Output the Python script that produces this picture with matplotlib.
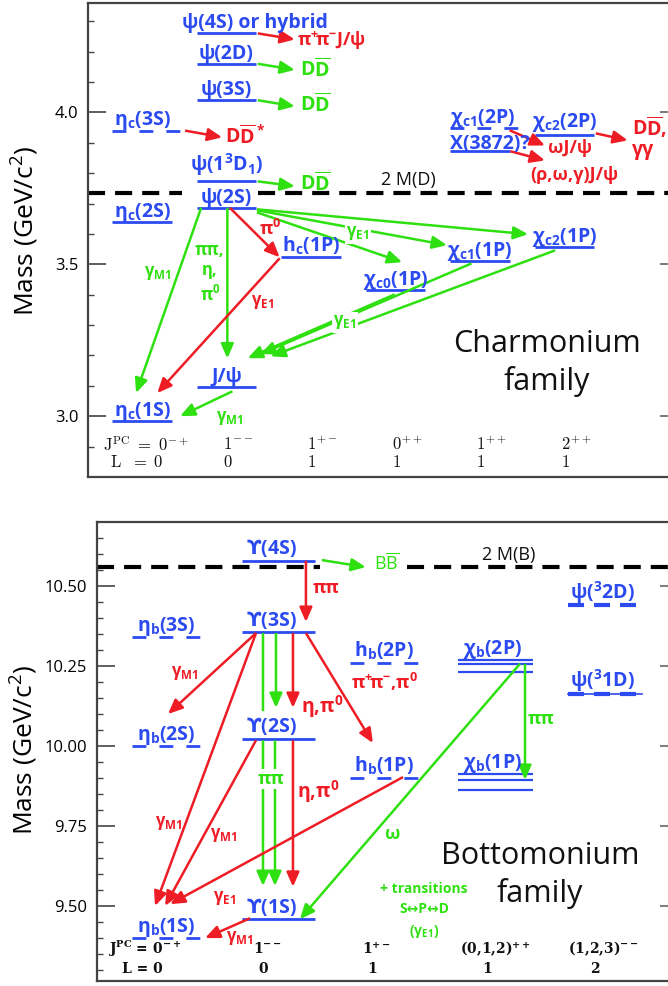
import matplotlib
matplotlib.use('Agg')
import matplotlib.pyplot as plt

BLUE, GREEN, RED, INK = '#2b4af0', '#2ee010', '#ee1c24', '#111111'
KIND = {'g': GREEN, 'r': RED}

plt.rcParams['font.family'] = ['Open Sans', 'DejaVu Sans']
plt.rcParams['mathtext.fontset'] = 'custom'
plt.rcParams['mathtext.rm'] = 'Open Sans'
plt.rcParams['mathtext.bf'] = 'Open Sans:bold'
plt.rcParams['mathtext.sf'] = 'DejaVu Sans:bold'
plt.rcParams['mathtext.default'] = 'regular'

# ---------------- charmonium data ----------------
cc_keys = ['etac1S', 'etac2S', 'etac3S', 'jpsi', 'psi2S', 'psi3770', 'psi3S', 'psi2D', 'psi4S',
           'hc1P', 'chic0', 'chic1', 'chic2', 'chic1_2P', 'x3872', 'chic2_2P']
cc_names = ['$η_c(1S)$', '$η_c(2S)$', '$η_c(3S)$', 'J/ψ', 'ψ(2S)', '$ψ(1^3D_1)$', 'ψ(3S)', 'ψ(2D)',
            'ψ(4S) or hybrid', '$h_c(1P)$', '$χ_{c0}(1P)$', '$χ_{c1}(1P)$', '$χ_{c2}(1P)$',
            '$χ_{c1}(2P)$', 'X(3872)?', '$χ_{c2}(2P)$']
cc_col = [0, 0, 0, 1, 1, 1, 1, 1, 1, 2, 3, 4, 5, 4, 4, 5]
cc_mass = [2.984, 3.639, 3.940, 3.097, 3.686, 3.773, 4.040, 4.160, 4.260,
           3.525, 3.415, 3.511, 3.556, 3.947, 3.872, 3.927]
cc_kind = ['seen', 'seen', 'pred', 'seen', 'seen', 'seen', 'seen', 'seen', 'seen',
           'seen', 'seen', 'seen', 'seen', 'pred', 'seen', 'seen']
cc_jpc = ['0^{-+}', '1^{--}', '1^{+-}', '0^{++}', '1^{++}', '2^{++}']
cc_L = ['0', '0', '1', '1', '1', '1']
cc_threshold = 3.734   # 2 M(D)
cc_ticks = [3.0, 3.5, 4.0]
cc_ticklabels = ['3.0', '3.5', '4.0']

# transitions (from, to, colour); from == to means decay to open final state
cc_trans = [('psi4S', 'psi4S', 'r'), ('psi2D', 'psi2D', 'g'), ('psi3S', 'psi3S', 'g'),
            ('etac3S', 'etac3S', 'r'), ('psi3770', 'psi3770', 'g'),
            ('psi2S', 'etac1S', 'g'), ('psi2S', 'jpsi', 'g'), ('psi2S', 'hc1P', 'r'),
            ('psi2S', 'chic2', 'g'), ('psi2S', 'chic1', 'g'), ('psi2S', 'chic0', 'g'),
            ('hc1P', 'etac1S', 'r'), ('jpsi', 'etac1S', 'g'),
            ('chic0', 'jpsi', 'g'), ('chic1', 'jpsi', 'g'), ('chic2', 'jpsi', 'g'),
            ('chic1_2P', 'chic1_2P', 'r'), ('x3872', 'x3872', 'r'), ('chic2_2P', 'chic2_2P', 'r')]

# ---------------- bottomonium data ----------------
bb_keys = ['etab1S', 'etab2S', 'etab3S', 'ups1S', 'ups2S', 'ups3S', 'ups4S',
           'hb1P', 'hb2P', 'chib1P', 'chib2P', 'ups1D', 'ups2D']
bb_names = ['$η_b(1S)$', '$η_b(2S)$', '$η_b(3S)$', r'$\mathsf{ϒ}(1S)$', r'$\mathsf{ϒ}(2S)$',
            r'$\mathsf{ϒ}(3S)$', r'$\mathsf{ϒ}(4S)$',
            '$h_b(1P)$', '$h_b(2P)$', '$χ_b(1P)$', '$χ_b(2P)$', '$ψ(^31D)$', '$ψ(^32D)$']
bb_col = [0, 0, 0, 1, 1, 1, 1, 2, 2, 3, 3, 4, 4]
bb_mass = [9.399, 9.999, 10.340, 9.460, 10.023, 10.355, 10.579,
           9.899, 10.260, 9.893, 10.257, 10.164, 10.440]
bb_kind = ['pred', 'pred', 'pred', 'seen', 'seen', 'seen', 'seen',
           'pred', 'pred', 'triplet', 'triplet', 'dseen', 'dpred']
chib1P_J = [9.862, 9.893, 9.912]
chib2P_J = [10.232, 10.257, 10.269]
bb_jpc = ['0$^{-+}$', '1$^{--}$', '1$^{+-}$', '(0,1,2)$^{++}$', '(1,2,3)$^{--}$']
bb_L = ['0', '0', '1', '1', '2']
bb_threshold = 10.558  # 2 M(B)
bb_ticks = [9.50, 9.75, 10.00, 10.25, 10.50]
bb_ticklabels = ['9.50', '9.75', '10.00', '10.25', '10.50']

bb_trans = [('ups4S', 'ups4S', 'g'), ('ups4S', 'ups3S', 'r'), ('ups3S', 'etab2S', 'r'),
            ('ups3S', 'ups2S', 'g'), ('ups3S', 'ups2S', 'g'), ('ups3S', 'ups2S', 'r'),
            ('ups3S', 'hb1P', 'r'), ('ups3S', 'etab1S', 'r'), ('ups2S', 'etab1S', 'r'),
            ('ups2S', 'ups1S', 'g'), ('ups2S', 'ups1S', 'g'), ('ups2S', 'ups1S', 'r'),
            ('hb1P', 'etab1S', 'r'), ('ups1S', 'etab1S', 'r'),
            ('chib2P', 'ups1S', 'g'), ('chib2P', 'chib1P', 'g')]


def arrow(ax, p0, p1, color, head=True):
    style = '-|>,head_length=0.55,head_width=0.24' if head else '-'
    ax.annotate('', xy=p1, xytext=p0, zorder=3,
                arrowprops=dict(arrowstyle=style, color=color, lw=1.8, mutation_scale=16,
                                shrinkA=0, shrinkB=0, capstyle='butt'))


def note(ax, x, y, s, color, size=12, weight='bold', ha='center', va='center', bg=False):
    kw = {}
    if bg:
        kw['bbox'] = dict(fc='white', ec='none', pad=1.0)
    ax.text(x, y, s, color=color, fontsize=size, fontweight=weight, ha=ha, va=va, zorder=4, **kw)


def frame(ax, ticks, labels, minor, xlim, ylim):
    ax.set_xlim(*xlim)
    ax.set_ylim(*ylim)
    ax.set_xticks([])
    ax.set_yticks(ticks)
    ax.set_yticklabels(labels, fontsize=12)
    ax.set_yticks(minor, minor=True)
    ax.tick_params(axis='y', which='major', direction='in', length=13, width=1.2, pad=7, colors='#444444',
                   labelcolor='black')
    ax.tick_params(axis='y', which='minor', direction='in', length=4.5, width=1.0, colors='#444444')
    ax.spines['right'].set_visible(False)
    for s in ['left', 'top', 'bottom']:
        ax.spines[s].set_color('#444444')
        ax.spines[s].set_linewidth(1.6)
    axr = ax.twinx()
    axr.set_ylim(*ylim)
    axr.set_yticks(ticks)
    axr.set_yticklabels([])
    axr.tick_params(axis='y', direction='in', length=6, width=1.2, colors='#666666')
    axr.set_xticks([])
    for s in axr.spines.values():
        s.set_visible(False)


fig = plt.figure(figsize=(6.68, 9.86), dpi=100)
ax1 = fig.add_axes([88 / 668, 1 - 477 / 986, 580 / 668, 474 / 986])
ax2 = fig.add_axes([97 / 668, 1 - 981 / 986, 571 / 668, 459 / 986])

# ======================= charmonium =======================
frame(ax1, cc_ticks, cc_ticklabels, [2.9 + 0.1 * i for i in range(15)], (-0.639, 6.225), (2.80, 4.36))
cc = {k: (c, m) for k, c, m in zip(cc_keys, cc_col, cc_mass)}

dash = dict(color='black', lw=3.0, ls=(0, (4.1, 2.4)), zorder=1)
ax1.plot([-0.639, 0.47], [cc_threshold] * 2, **dash)
ax1.plot([1.37, 6.225], [cc_threshold] * 2, **dash)
note(ax1, 3.148, cc_threshold + 0.042, '2 M(D)', INK, size=13, weight='normal')

lab_top = {'psi4S': (-0.527, 'left', 0.017), 'psi3770': (0.0, 'center', 0.035),
           'x3872': (-0.355, 'left', 0.006), 'chic1_2P': (0.036, 'center', 0.017),
           'chic2_2P': (0.0, 'center', 0.024)}
for k, name, c, m, kind in zip(cc_keys, cc_names, cc_col, cc_mass, cc_kind):
    if kind == 'seen':
        ax1.plot([c - 0.35, c + 0.35], [m, m], color=BLUE, lw=2.0, solid_capstyle='butt', zorder=2)
    else:
        ax1.plot([c - 0.35, c + 0.45], [m, m], color=BLUE, lw=2.0, ls=(0, (5.0, 4.7)), zorder=2)
    dx, ha, dm = lab_top.get(k, (0.0, 'center', 0.017))
    ax1.text(c + dx, m + dm, name, color=BLUE, fontsize=14, fontweight='bold', ha=ha, va='baseline', zorder=4)

cc_anchor = [((0.37, 0.0), (0.81, -0.020)), ((0.37, 0.0), (0.81, -0.020)), ((0.37, 0.0), (0.81, -0.020)),
             ((0.51, 0.0), (0.95, -0.022)), ((0.37, 0.0), (0.81, -0.016)),
             ((-0.30, 0.0), (-0.07, 0.092)), ((0.01, 0.0), (0.01, 0.093)), ((0.04, 0.0), (-0.37, -0.002)),
             ((0.36, -0.005), (-0.43, 0.043)), ((0.36, -0.008), (-0.39, 0.052)), ((0.36, -0.015), (0.08, 0.092)),
             ((-0.37, -0.005), (0.18, 0.092)), ((0.07, -0.015), (0.45, 0.016)),
             ((-0.01, -0.014), (0.25, 0.094)), ((-0.10, -0.008), (0.40, 0.107)), ((-0.11, -0.010), (0.52, 0.100)),
             ((0.35, -0.006), (0.77, -0.056)), ((0.36, 0.0), (0.77, -0.030)), ((0.37, 0.004), (0.75, -0.019))]
for (a, b, kind), ((dx0, dm0), (dx1, dm1)) in zip(cc_trans, cc_anchor):
    (ca, ma), (cb, mb) = cc[a], cc[b]
    arrow(ax1, (ca + dx0, ma + dm0), (cb + dx1, mb + dm1), KIND[kind])

# final states
note(ax1, 1.834, 4.237, r'$π^{+}\!π^{-}J/ψ$', RED, size=13, ha='left')
for m in [4.141, 4.026, 3.766]:
    note(ax1, 1.87, m, r'$D\overline{D}$', GREEN, size=14, ha='left')
note(ax1, 0.982, 3.921, r'$D\overline{D}^*$', RED, size=14, ha='left')
note(ax1, 4.805, 3.882, 'ωJ/ψ', RED, size=13, ha='left')
note(ax1, 5.12, 3.793, '(ρ,ω,γ)J/ψ', RED, size=13)
note(ax1, 5.80, 3.952, r'$D\overline{D}{,}$', RED, size=14, ha='left')
note(ax1, 5.80, 3.876, 'γγ', RED, size=14, ha='left')

# transition labels
note(ax1, 0.19, 3.47, '$γ_{M1}$', GREEN)
note(ax1, 0.805, 3.546, 'ππ,', GREEN)
note(ax1, 0.805, 3.48, 'η,', GREEN)
note(ax1, 0.805, 3.398, '$π^0$', GREEN)
note(ax1, 1.515, 3.618, '$π^0$', RED, size=13)
note(ax1, 2.556, 3.602, '$γ_{E1}$', GREEN, bg=True)
note(ax1, 1.432, 3.375, '$γ_{E1}$', RED)
note(ax1, 1.04, 2.993, '$γ_{M1}$', GREEN)
note(ax1, 2.40, 3.309, '$γ_{E1}$', GREEN, bg=True)

ax1.text(4.793, 3.21, 'Charmonium', fontsize=22, ha='center', va='baseline', color=INK)
ax1.text(4.793, 3.086, 'family', fontsize=22, ha='center', va='baseline', color=INK)

ax1.text(-0.46, 2.905, r'$\mathrm{J^{PC}\ =\ 0^{-+}}$', fontsize=12, ha='left', va='center',
         math_fontfamily='cm', color=INK)
ax1.text(-0.38, 2.845, r'$\mathrm{L\ \ =\ 0}$', fontsize=12, ha='left', va='center',
         math_fontfamily='cm', color=INK)
for c in range(1, 6):
    ax1.text(c - 0.045, 2.905, r'$\mathrm{' + cc_jpc[c] + '}$', fontsize=12, ha='left', va='center',
             math_fontfamily='cm', color=INK)
    ax1.text(c + 0.01, 2.845, r'$\mathrm{' + cc_L[c] + '}$', fontsize=12, ha='center', va='center',
             math_fontfamily='cm', color=INK)

# ======================= bottomonium =======================
frame(ax2, bb_ticks, bb_ticklabels, [9.30 + 0.05 * i for i in range(28)], (-0.633, 4.606), (9.266, 10.70))
bb = {k: (c, m) for k, c, m in zip(bb_keys, bb_col, bb_mass)}

ax2.plot([-0.633, 1.413], [bb_threshold] * 2, **dash)
ax2.plot([2.211, 4.606], [bb_threshold] * 2, **dash)
note(ax2, 3.147, bb_threshold + 0.04, '2 M(B)', INK, size=13, weight='normal')

for k, name, c, m, kind in zip(bb_keys, bb_names, bb_col, bb_mass, bb_kind):
    dx = 0.0
    if kind == 'seen':
        ax2.plot([c - 0.30, c + 0.37], [m, m], color=BLUE, lw=2.0, solid_capstyle='butt', zorder=2)
        dx = -0.03
    elif kind == 'pred':
        ax2.plot([c - 0.31, c + 0.31], [m, m], color=BLUE, lw=2.0, ls=(0, (5.0, 4.7)), zorder=2)
    elif kind == 'triplet':
        js = chib1P_J if k == 'chib1P' else chib2P_J
        for mj in js:
            ax2.plot([c - 0.32, c + 0.37], [mj, mj], color=BLUE, lw=1.6, solid_capstyle='butt', zorder=2)
        m = max(js)
    else:
        if kind == 'dseen':
            ax2.plot([c - 0.31, c + 0.37], [m, m], color=BLUE, lw=1.2, zorder=2)
        ax2.plot([c - 0.31, c + 0.31], [m, m], color=BLUE, lw=3.0, ls=(0, (3.84, 2.4)), zorder=2)
    ax2.text(c + dx, m + 0.02, name, color=BLUE, fontsize=14, fontweight='bold', ha='center',
             va='baseline', zorder=4)

bb_anchor = [((0.43, 0.002), (0.835, -0.020)), ((0.284, 0.0), (0.284, 0.0325)),
             ((-0.174, -0.002), (0.018, 0.101)), ((-0.11, -0.002), (-0.11, 0.086)),
             ((0.009, -0.002), (0.009, 0.096)), ((0.165, -0.002), (0.165, 0.096)),
             ((0.284, -0.002), (-0.101, 0.110)), ((-0.174, -0.002), (-0.101, 0.101)),
             ((-0.174, -0.005), (-0.009, 0.101)), ((-0.11, -0.005), (-0.11, 0.1025)),
             ((0.0, -0.005), (0.0, 0.1025)), ((0.165, -0.005), (0.165, 0.100)),
             ((0.174, 0.004), (0.037, 0.107)), ((-0.229, 0.002), (0.358, 0.001)),
             ((0.248, 0.0), (0.229, -0.001)), ((0.294, 0.0), (0.294, 0.001))]
for i, ((a, b, kind), ((dx0, dm0), (dx1, dm1))) in enumerate(zip(bb_trans, bb_anchor)):
    (ca, ma), (cb, mb) = bb[a], bb[b]
    arrow(ax2, (ca + dx0, ma + dm0), (cb + dx1, mb + dm1), KIND[kind], head=(i != 3))

note(ax2, 2.028, 10.572, r'$B\overline{B}$', GREEN, size=13, weight='normal', bg=True)
note(ax2, 1.468, 10.494, 'ππ', RED, size=13)
note(ax2, 0.174, 10.228, '$γ_{M1}$', RED)
note(ax2, 1.431, 10.122, '$η{,}π^0$', RED, size=14)
note(ax2, 2.0, 10.20, r'$π^{+}\!π^{-}{,}π^0$', RED, size=13)
note(ax2, 0.963, 9.897, 'ππ', GREEN, size=13, bg=True)
note(ax2, 1.394, 9.859, '$η{,}π^0$', RED, size=14)
note(ax2, 0.028, 9.759, '$γ_{M1}$', RED)
note(ax2, 0.532, 9.722, '$γ_{M1}$', RED)
note(ax2, 0.541, 9.525, '$γ_{E1}$', RED)
note(ax2, 0.679, 9.400, '$γ_{M1}$', RED)
note(ax2, 2.083, 9.725, 'ω', GREEN, size=13)
note(ax2, 3.44, 10.084, 'ππ', GREEN, size=13)
note(ax2, 2.367, 9.553, '+ transitions', GREEN, size=10)
note(ax2, 2.367, 9.491, 'S↔P↔D', GREEN, size=10)
note(ax2, 2.367, 9.422, '($γ_{E1}$)', GREEN, size=10)

ax2.text(3.431, 9.631, 'Bottomonium', fontsize=22, ha='center', va='baseline', color=INK)
ax2.text(3.431, 9.5125, 'family', fontsize=22, ha='center', va='baseline', color=INK)

serif = dict(family='DejaVu Serif', fontsize=10, fontweight='bold', va='center', color=INK)
ax2.text(-0.532, 9.366, 'J$^{PC}$ = 0$^{-+}$', ha='left', **serif)
ax2.text(-0.404, 9.303, 'L = 0', ha='left', **serif)
bb_xL = [0, 0.89, 1.89, 2.945, 3.936]
for c in range(1, 5):
    ax2.text(bb_xL[c] + (0.08 if c > 2 else 0.04), 9.366, bb_jpc[c], ha='center', **serif)
    ax2.text(bb_xL[c], 9.303, bb_L[c], ha='center', **serif)

fig.text(25 / 668, 1 - 231 / 986, 'Mass (GeV/c$^2$)', rotation=90, fontsize=19, ha='center', va='center')
fig.text(24 / 668, 1 - 750 / 986, 'Mass (GeV/c$^2$)', rotation=90, fontsize=19, ha='center', va='center')

fig.savefig('out.png', dpi=100)
